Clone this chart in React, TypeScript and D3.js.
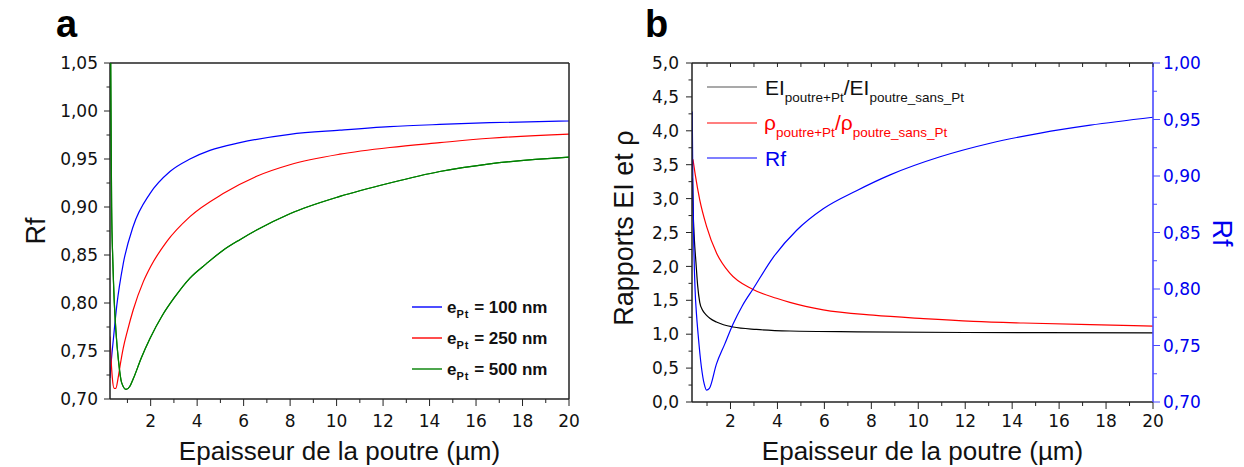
import React from "react";
import * as d3 from "d3";

// ---------- data ----------
// Panel a: Rf vs beam thickness for three Pt thicknesses
const blue100X = [0.25, 0.3, 0.39, 0.54, 0.82, 1.25, 1.97, 2.83, 3.69, 4.55, 5.84, 7.99, 10.14, 12.29, 14.44, 16.59, 20];
const blue100Y = [0.722, 0.738, 0.761, 0.797, 0.841, 0.88, 0.914, 0.937, 0.95, 0.959, 0.967, 0.9757, 0.98, 0.9837, 0.986, 0.9878, 0.9896];

const red250X = [0.25, 0.3, 0.35, 0.43, 0.5, 0.6, 0.7, 0.82, 1.0, 1.25, 1.68, 2.0, 2.69, 3.69, 5.12, 6.56, 7.99, 10.14, 12.29, 14.44, 16.59, 20];
const red250Y = [0.765, 0.74, 0.722, 0.711, 0.711, 0.722, 0.737, 0.753, 0.771, 0.793, 0.822, 0.838, 0.864, 0.89, 0.914, 0.932, 0.944, 0.955, 0.962, 0.967, 0.9716, 0.976];

const green500X = [0.25, 0.28, 0.3, 0.32, 0.37, 0.43, 0.51, 0.61, 0.75, 0.94, 1.1, 1.25, 1.6, 1.97, 2.5, 3.0, 3.69, 4.4, 5.12, 5.84, 6.56, 7.99, 10.14, 12.29, 14.44, 16.59, 20];
const green500Y = [1.2, 1.05, 0.97, 0.9, 0.845, 0.803, 0.769, 0.741, 0.717, 0.71, 0.713, 0.721, 0.743, 0.763, 0.787, 0.805, 0.826, 0.841, 0.855, 0.866, 0.876, 0.893, 0.911, 0.925, 0.937, 0.945, 0.952];

const legendA = ["100", "250", "500"];

// Panel b
const eiX = [0.38, 0.42, 0.46, 0.53, 0.6, 0.69, 0.8, 0.95, 1.12, 1.4, 1.7, 2.11, 3.1, 4.53, 7.4, 12, 20];
const eiY = [3.3, 2.7, 2.4, 2.05, 1.72, 1.47, 1.36, 1.29, 1.235, 1.18, 1.14, 1.106, 1.07, 1.047, 1.035, 1.025, 1.02];

const rhoX = [0.4, 0.5, 0.69, 0.98, 1.4, 1.97, 2.96, 3.96, 4.53, 5.95, 8.08, 10.22, 12.35, 14.48, 17.33, 20];
const rhoY = [3.58, 3.35, 2.98, 2.59, 2.2, 1.9, 1.66, 1.53, 1.47, 1.36, 1.28, 1.23, 1.19, 1.165, 1.14, 1.12];

const rfX = [0.37, 0.4, 0.44, 0.49, 0.55, 0.62, 0.76, 0.88, 0.98, 1.1, 1.4, 1.75, 2.11, 2.5, 2.96, 3.82, 4.82, 5.95, 7.37, 8.8, 10.93, 13.06, 15.2, 17.33, 20];
const rfY = [0.957, 0.885, 0.835, 0.8, 0.778, 0.76, 0.731, 0.716, 0.7105, 0.712, 0.7335, 0.751, 0.769, 0.785, 0.8, 0.828, 0.852, 0.871, 0.887, 0.901, 0.917, 0.929, 0.938, 0.945, 0.952];

// Ticks
const xMajor = [2, 4, 6, 8, 10, 12, 14, 16, 18, 20];
const xMinor = [1, 3, 5, 7, 9, 11, 13, 15, 17, 19];
const rfMajor = [0.7, 0.75, 0.8, 0.85, 0.9, 0.95, 1.0, 1.05];
const rfMinor = [0.725, 0.775, 0.825, 0.875, 0.925, 0.975, 1.025];
const ratioMajor = [0, 0.5, 1, 1.5, 2, 2.5, 3, 3.5, 4, 4.5, 5];
const ratioMinor = [0.25, 0.75, 1.25, 1.75, 2.25, 2.75, 3.25, 3.75, 4.25, 4.75];
const rfRMajor = [0.7, 0.75, 0.8, 0.85, 0.9, 0.95, 1.0];
const rfRMinor = [0.725, 0.775, 0.825, 0.875, 0.925, 0.975];
const topTicksB = [1, 2, 3, 4, 5, 6, 7, 8, 9, 10, 11, 12, 13, 14, 15, 16, 17, 18, 19, 20];

// ---------- layout ----------
const A = { l: 110, r: 569, t: 63, b: 399 };
const B = { l: 692, r: 1153, t: 63, b: 402 };
const TICKFONT = "'DejaVu Sans', sans-serif";
const ARIAL = "'Liberation Sans', Arial, sans-serif";

const comma2 = (v: number) => d3.format(".2f")(v).replace(".", ",");
const comma1 = (v: number) => d3.format(".1f")(v).replace(".", ",");

function zip(xs: number[], ys: number[]): [number, number][] {
  return xs.map((x, i) => [x, ys[i]]);
}

export default function App() {
  const xa = d3.scaleLinear().domain([0.25, 20]).range([A.l, A.r]);
  const ya = d3.scaleLinear().domain([0.7, 1.05]).range([A.b, A.t]);
  const xb = d3.scaleLinear().domain([0.36, 20]).range([B.l, B.r]);
  const ybL = d3.scaleLinear().domain([0, 5]).range([B.b, B.t]);
  const ybR = d3.scaleLinear().domain([0.7, 1.0]).range([B.b, B.t]);

  const lineA = d3
    .line<[number, number]>()
    .x((d) => xa(d[0]))
    .y((d) => ya(d[1]))
    .curve(d3.curveMonotoneX);
  const lineBL = d3
    .line<[number, number]>()
    .x((d) => xb(d[0]))
    .y((d) => ybL(d[1]))
    .curve(d3.curveMonotoneX);
  const lineBR = d3
    .line<[number, number]>()
    .x((d) => xb(d[0]))
    .y((d) => ybR(d[1]))
    .curve(d3.curveMonotoneX);

  const seriesA = [
    { x: blue100X, y: blue100Y, c: "#0000ff" },
    { x: red250X, y: red250Y, c: "#ff0000" },
    { x: green500X, y: green500Y, c: "#008000" },
  ];

  const axisCol = "#222";

  return (
    <svg
      width={1244}
      height={467}
      style={{ position: "absolute", left: 0, top: 0, background: "#fff" }}
    >
      <defs>
        <clipPath id="clipA">
          <rect x={A.l} y={A.t} width={A.r - A.l} height={A.b - A.t} />
        </clipPath>
        <clipPath id="clipB">
          <rect x={B.l} y={B.t} width={B.r - B.l} height={B.b - B.t} />
        </clipPath>
      </defs>
      <rect x={0} y={0} width={1244} height={467} fill="#fff" />

      {/* ================= Panel a ================= */}
      <text x={56} y={37} fontFamily={ARIAL} fontWeight="bold" fontSize={38}>a</text>

      {/* curves */}
      <g clipPath="url(#clipA)">
        {seriesA.map((s, i) => (
          <path key={i} d={lineA(zip(s.x, s.y)) || ""} fill="none" stroke={s.c} strokeWidth={1.2} />
        ))}
      </g>

      {/* frame */}
      <line x1={A.l} x2={A.r} y1={A.t} y2={A.t} stroke={axisCol} strokeWidth={1.5} />
      <line x1={A.r} x2={A.r} y1={A.t} y2={A.b} stroke={axisCol} strokeWidth={1.5} />
      <line x1={A.l} x2={A.r} y1={A.b} y2={A.b} stroke={axisCol} strokeWidth={1.5} />
      <line x1={A.l} x2={A.l} y1={A.t} y2={A.b} stroke={axisCol} strokeWidth={1.5} />
      {/* green curve overlays left edge near top */}
      <g clipPath="url(#clipA)">
        <path d={lineA(zip(green500X, green500Y)) || ""} fill="none" stroke="#008000" strokeWidth={1.2} />
      </g>

      {/* y ticks a */}
      {rfMajor.map((v) => (
        <g key={"ay" + v}>
          <line x1={A.l - 6} x2={A.l} y1={ya(v)} y2={ya(v)} stroke={axisCol} strokeWidth={1} />
          <text x={A.l - 12} y={ya(v)} dy="0.36em" textAnchor="end" fontFamily={TICKFONT} fontSize={17} fill="#111">
            {comma2(v)}
          </text>
        </g>
      ))}
      {rfMinor.map((v) => (
        <line key={"aym" + v} x1={A.l - 3.5} x2={A.l} y1={ya(v)} y2={ya(v)} stroke={axisCol} strokeWidth={1} />
      ))}
      {/* x ticks a */}
      {xMajor.map((v) => (
        <g key={"ax" + v}>
          <line x1={xa(v)} x2={xa(v)} y1={A.b} y2={A.b + 7} stroke={axisCol} strokeWidth={1} />
          <text x={xa(v)} y={427} textAnchor="middle" fontFamily={TICKFONT} fontSize={17} fill="#111">
            {v}
          </text>
        </g>
      ))}
      {xMinor.map((v) => (
        <line key={"axm" + v} x1={xa(v)} x2={xa(v)} y1={A.b} y2={A.b + 4} stroke={axisCol} strokeWidth={1} />
      ))}

      {/* titles a */}
      <text x={(A.l + A.r) / 2} y={460} textAnchor="middle" fontFamily={ARIAL} fontSize={26} fill="#111">
        Epaisseur de la poutre (µm)
      </text>
      <text
        transform={`translate(45, ${(A.t + A.b) / 2}) rotate(-90)`}
        textAnchor="middle"
        fontFamily={ARIAL}
        fontSize={27}
        fill="#111"
      >
        Rf
      </text>

      {/* legend a */}
      {seriesA.map((s, i) => {
        const yb = 313 + i * 31;
        return (
          <g key={"lga" + i}>
            <line x1={412} x2={442} y1={yb - 6} y2={yb - 6} stroke={s.c} strokeWidth={1.4} />
            <text x={447} y={yb} fontFamily={ARIAL} fontWeight="bold" fontSize={17} fill="#111">
              e
              <tspan fontSize={11} dy={5} letterSpacing={1}>Pt</tspan>
              <tspan dy={-5}>{` = ${legendA[i]} nm`}</tspan>
            </text>
          </g>
        );
      })}

      {/* ================= Panel b ================= */}
      <text x={645} y={37} fontFamily={ARIAL} fontWeight="bold" fontSize={38}>b</text>

      <g clipPath="url(#clipB)">
        <path d={lineBL(zip(eiX, eiY)) || ""} fill="none" stroke="#000" strokeWidth={1.2} />
        <path d={lineBL(zip(rhoX, rhoY)) || ""} fill="none" stroke="#ff0000" strokeWidth={1.2} />
        <path d={lineBR(zip(rfX, rfY)) || ""} fill="none" stroke="#0000ff" strokeWidth={1.2} />
      </g>

      {/* frame b */}
      <line x1={B.l} x2={B.r} y1={B.t} y2={B.t} stroke={axisCol} strokeWidth={1.5} />
      <line x1={B.l} x2={B.r} y1={B.b} y2={B.b} stroke={axisCol} strokeWidth={1.5} />
      <line x1={B.l} x2={B.l} y1={B.t} y2={B.b} stroke={axisCol} strokeWidth={1.5} />
      <line x1={B.r} x2={B.r} y1={B.t} y2={B.b} stroke="#4a4aff" strokeWidth={1.6} />

      {/* top ticks inward */}
      {topTicksB.map((v) => (
        <line key={"bt" + v} x1={xb(v)} x2={xb(v)} y1={B.t} y2={B.t + 4} stroke={axisCol} strokeWidth={1} />
      ))}
      {/* bottom ticks */}
      {xMajor.map((v) => (
        <g key={"bx" + v}>
          <line x1={xb(v)} x2={xb(v)} y1={B.b} y2={B.b + 7} stroke={axisCol} strokeWidth={1} />
          <text x={xb(v)} y={427} textAnchor="middle" fontFamily={TICKFONT} fontSize={17} fill="#111">
            {v}
          </text>
        </g>
      ))}
      {xMinor.map((v) => (
        <line key={"bxm" + v} x1={xb(v)} x2={xb(v)} y1={B.b} y2={B.b + 4} stroke={axisCol} strokeWidth={1} />
      ))}
      {/* left ticks */}
      {ratioMajor.map((v) => (
        <g key={"bl" + v}>
          <line x1={B.l - 6} x2={B.l} y1={ybL(v)} y2={ybL(v)} stroke={axisCol} strokeWidth={1} />
          <text x={B.l - 13} y={ybL(v)} dy="0.36em" textAnchor="end" fontFamily={TICKFONT} fontSize={17} fill="#111">
            {comma1(v)}
          </text>
        </g>
      ))}
      {ratioMinor.map((v) => (
        <line key={"blm" + v} x1={B.l - 3.5} x2={B.l} y1={ybL(v)} y2={ybL(v)} stroke={axisCol} strokeWidth={1} />
      ))}
      {/* right ticks (blue) */}
      {rfRMajor.map((v) => (
        <g key={"br" + v}>
          <line x1={B.r} x2={B.r + 7} y1={ybR(v)} y2={ybR(v)} stroke="#4a4aff" strokeWidth={1} />
          <text x={B.r + 10} y={ybR(v)} dy="0.36em" textAnchor="start" fontFamily={TICKFONT} fontSize={17} fill="#0000ee">
            {comma2(v)}
          </text>
        </g>
      ))}
      {rfRMinor.map((v) => (
        <line key={"brm" + v} x1={B.r} x2={B.r + 4} y1={ybR(v)} y2={ybR(v)} stroke="#4a4aff" strokeWidth={1} />
      ))}

      {/* titles b */}
      <text x={(B.l + B.r) / 2} y={460} textAnchor="middle" fontFamily={ARIAL} fontSize={26} fill="#111">
        Epaisseur de la poutre (µm)
      </text>
      <text
        transform={`translate(633, 228) rotate(-90)`}
        textAnchor="middle"
        fontFamily={ARIAL}
        fontSize={27}
        fill="#111"
      >
        Rapports EI et ρ
      </text>
      <text
        transform={`translate(1213, 233) rotate(90)`}
        textAnchor="middle"
        fontFamily={ARIAL}
        fontSize={27}
        fill="#0000ee"
      >
        Rf
      </text>

      {/* legend b */}
      <line x1={707} x2={757} y1={87} y2={87} stroke="#555" strokeWidth={1.2} />
      <text x={765} y={95} fontFamily={ARIAL} fontSize={21} fill="#111">
        EI
        <tspan fontSize={13.5} dy={6.5}>poutre+Pt</tspan>
        <tspan dy={-6.5}>/EI</tspan>
        <tspan fontSize={13.5} dy={6.5}>poutre_sans_Pt</tspan>
      </text>
      <line x1={707} x2={757} y1={123} y2={123} stroke="#ff0000" strokeWidth={1.2} />
      <text x={764} y={130} fontFamily={ARIAL} fontSize={21} fill="#ff0000">
        ρ
        <tspan fontSize={13.5} dy={6.5}>poutre+Pt</tspan>
        <tspan dy={-6.5}>/ρ</tspan>
        <tspan fontSize={13.5} dy={6.5}>poutre_sans_Pt</tspan>
      </text>
      <line x1={707} x2={757} y1={158} y2={158} stroke="#0000ff" strokeWidth={1.2} />
      <text x={765} y={166} fontFamily={ARIAL} fontSize={21} fill="#0000ee">
        Rf
      </text>
    </svg>
  );
}
